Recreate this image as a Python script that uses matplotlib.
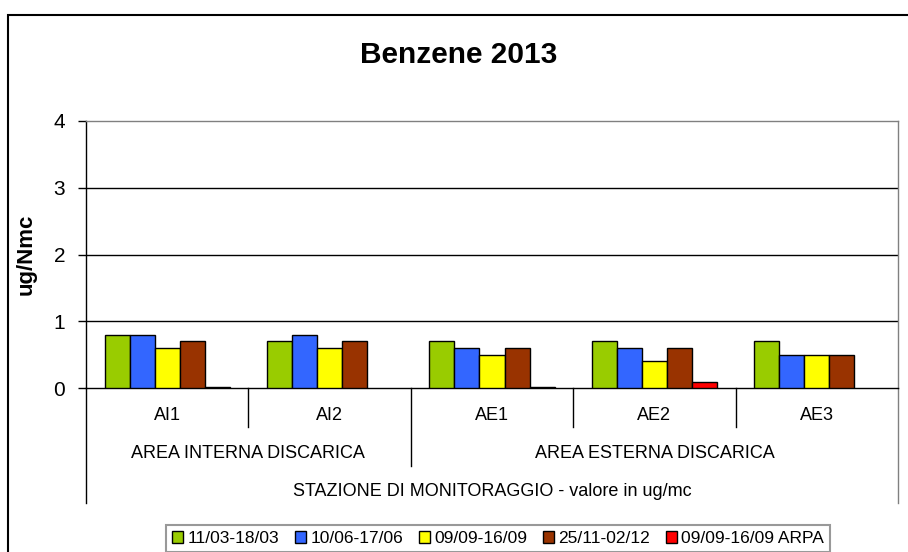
import matplotlib
matplotlib.use('Agg')
import matplotlib.pyplot as plt
import numpy as np
from matplotlib.patches import Rectangle

plt.rcParams['font.family'] = ['Liberation Sans', 'DejaVu Sans']

# dati
stazioni = ['AI1', 'AI2', 'AE1', 'AE2', 'AE3']
aree = ['AREA INTERNA DISCARICA', 'AREA ESTERNA DISCARICA']
periodi = ['11/03-18/03', '10/06-17/06', '09/09-16/09', '25/11-02/12', '09/09-16/09 ARPA']
v_mar = [0.8, 0.7, 0.7, 0.7, 0.7]
v_giu = [0.8, 0.8, 0.6, 0.6, 0.5]
v_set = [0.6, 0.6, 0.5, 0.4, 0.5]
v_nov = [0.7, 0.7, 0.6, 0.6, 0.5]
v_arpa = [0.01, np.nan, 0.01, 0.09, np.nan]
colori = ['#99CC00', '#3366FF', '#FFFF00', '#993300', '#FF0000']

serie = [v_mar, v_giu, v_set, v_nov, v_arpa]

W, H = 908, 552
fig = plt.figure(figsize=(W / 100, H / 100), dpi=100)

# bordo esterno del grafico (tagliato a destra e in basso)
fig.add_artist(Rectangle((8 / W, -0.1), 1.2, 1 - 15 / H + 0.1, transform=fig.transFigure,
                         fill=False, edgecolor='black', linewidth=1.5))

left, right, top, bottom = 86, 898, 121, 388
ax = fig.add_axes([left / W, 1 - bottom / H, (right - left) / W, (bottom - top) / H])

x = np.arange(len(stazioni))
w = 0.154
for i, (vals, c, lab) in enumerate(zip(serie, colori, periodi)):
    ax.bar(x + (i - 2) * w, vals, w, color=c, edgecolor='black', linewidth=1, label=lab, zorder=3)

ax.set_xlim(-0.5, len(stazioni) - 0.5)
ax.set_ylim(0, 4)
ax.set_yticks([0, 1, 2, 3, 4])
ax.tick_params(axis='y', labelsize=15, length=6, width=1, pad=9, color='black')
ax.set_xticks([])
for y in [1, 2, 3]:
    ax.axhline(y, color='black', linewidth=1, zorder=1)
ax.spines['top'].set_color('#808080')
ax.spines['right'].set_color('#808080')
ax.spines['left'].set_color('black')
ax.spines['bottom'].set_color('black')
for s in ax.spines.values():
    s.set_linewidth(1)

ax.set_ylabel('ug/Nmc', fontsize=16, fontweight='bold', labelpad=12)

# asse categorie a più livelli
tr = ax.get_xaxis_transform()
ph = bottom - top
def yf(py):
    return (bottom - py) / ph

lk = dict(color='black', linewidth=1, transform=tr, clip_on=False)
ax.plot([-0.5, -0.5], [0, yf(503)], **lk)
ax.plot([4.5, 4.5], [0, yf(503)], color='#808080', linewidth=1, transform=tr, clip_on=False)
for xd in [0.5, 2.5, 3.5]:
    ax.plot([xd, xd], [0, yf(427)], **lk)
ax.plot([1.5, 1.5], [0, yf(466)], **lk)

for xi, s in zip(x, stazioni):
    ax.text(xi, yf(416), s, transform=tr, ha='center', va='center', fontsize=13)
ax.text(0.5, yf(453), aree[0], transform=tr, ha='center', va='center', fontsize=13)
ax.text(3.0, yf(453), aree[1], transform=tr, ha='center', va='center', fontsize=13)
ax.text(2.0, yf(491), 'STAZIONE DI MONITORAGGIO - valore in ug/mc', transform=tr,
        ha='center', va='center', fontsize=13)

fig.text(459 / W, 1 - 55 / H, 'Benzene 2013', ha='center', va='center',
         fontsize=21.5, fontweight='bold')

leg = fig.legend(loc='upper center', bbox_to_anchor=(498 / W, 1 - 525 / H), ncol=5,
                 fontsize=12.5, frameon=True, fancybox=False, handlelength=0.65,
                 handleheight=0.65, handletextpad=0.25, columnspacing=0.9,
                 borderpad=0.35, borderaxespad=0)
leg.get_frame().set_edgecolor('#808080')
leg.get_frame().set_linewidth(1.5)

fig.savefig('out.png', dpi=100)
